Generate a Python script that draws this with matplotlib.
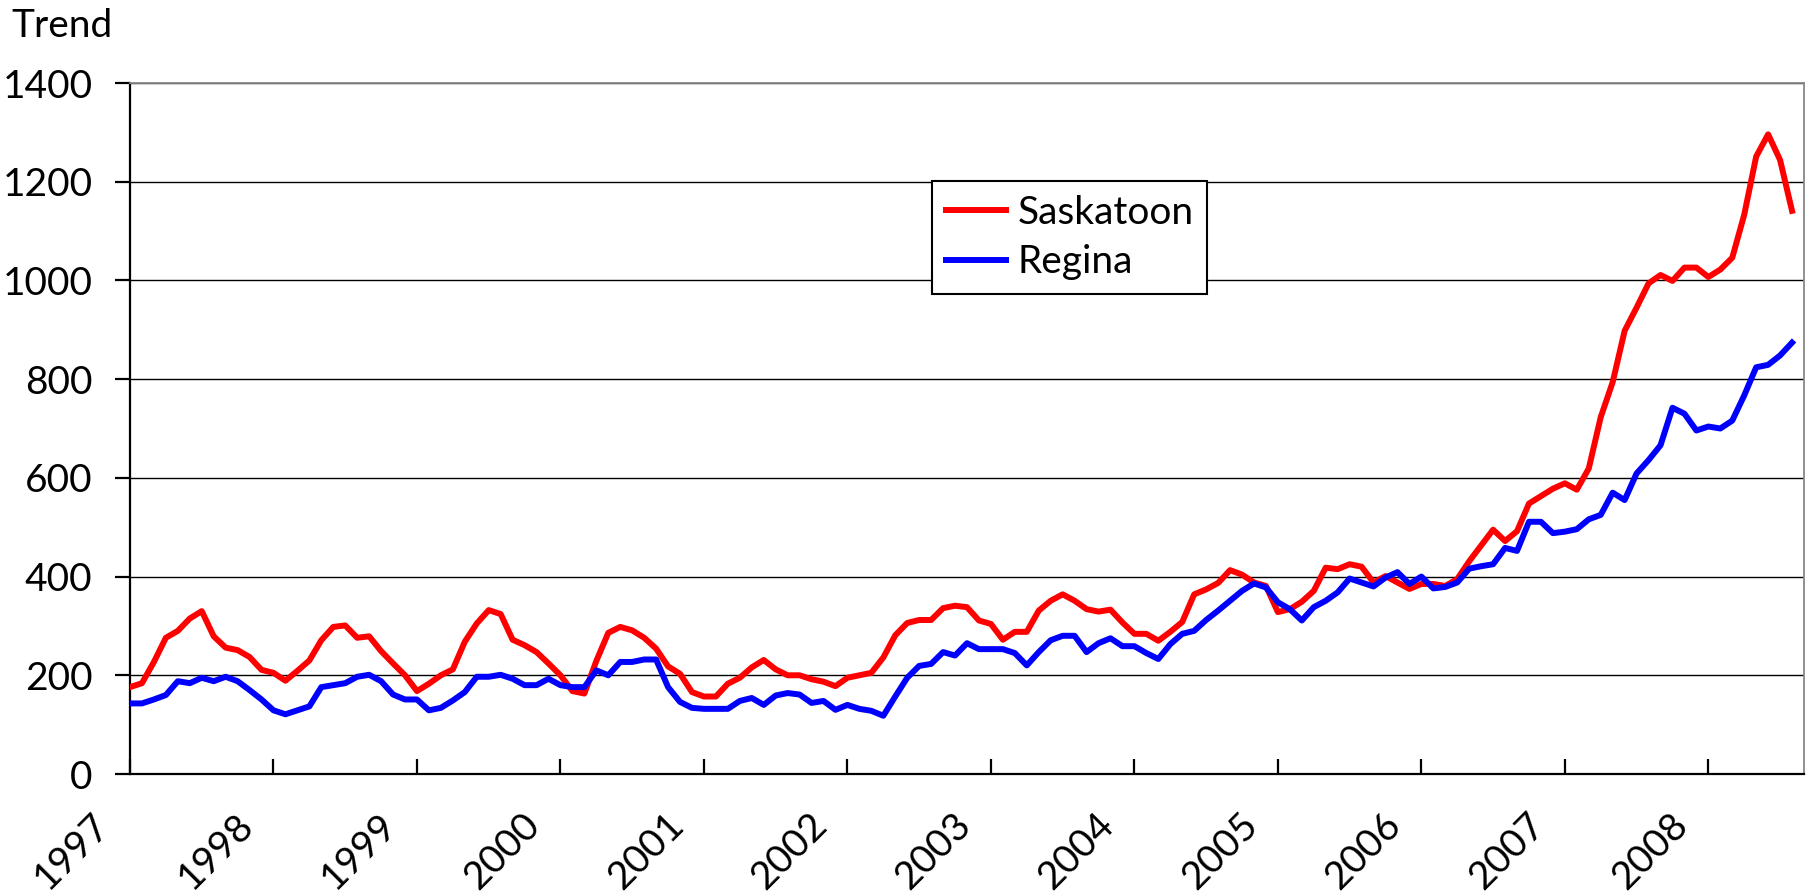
import matplotlib
matplotlib.use("Agg")
import matplotlib.pyplot as plt
import matplotlib.transforms as mtransforms
import numpy as np

plt.rcParams['font.family'] = ['Lato', 'DejaVu Sans']

# monthly trend, Jan 1997 - Aug 2008
saskatoon = [176, 184, 227, 276, 290, 315, 330, 279, 256, 251, 237, 211,
             205, 189, 209, 230, 271, 298, 301, 276, 279, 249, 224, 200,
             168, 183, 200, 212, 268, 305, 332, 324, 272, 261, 247, 224,
             200, 168, 163, 229, 286, 298, 291, 276, 254, 218, 203, 166,
             157, 157, 183, 195, 216, 231, 212, 200, 200, 192, 187, 178,
             195, 200, 205, 236, 281, 306, 312, 312, 336, 341, 338, 311,
             304, 272, 288, 288, 331, 351, 364, 351, 334, 329, 333, 307,
             284, 284, 270, 288, 308, 364, 374, 387, 413, 404, 388, 381,
             328, 334, 349, 371, 418, 415, 425, 420, 388, 401, 388, 375,
             385, 385, 381, 395, 431, 463, 495, 472, 492, 548, 563, 578,
             589, 576, 619, 723, 794, 898, 945, 994, 1011, 999, 1026, 1026,
             1007, 1022, 1046, 1133, 1251, 1296, 1244, 1141]

regina = [143, 143, 151, 160, 188, 184, 195, 188, 197, 188, 170, 151,
          129, 121, 129, 137, 176, 180, 184, 197, 201, 188, 161, 151,
          151, 129, 134, 149, 166, 197, 197, 201, 193, 180, 180, 193,
          180, 176, 176, 210, 200, 227, 227, 232, 232, 176, 146, 134,
          132, 132, 132, 148, 154, 140, 159, 164, 161, 144, 148, 130,
          140, 132, 128, 118, 157, 195, 219, 223, 247, 240, 265, 253,
          253, 253, 245, 220, 247, 271, 280, 280, 247, 265, 275, 259,
          259, 245, 233, 263, 284, 290, 312, 331, 351, 371, 386, 378,
          348, 334, 311, 338, 351, 368, 396, 388, 380, 398, 409, 385,
          400, 376, 379, 388, 416, 421, 425, 458, 452, 511, 511, 488,
          491, 496, 516, 525, 570, 555, 609, 636, 666, 742, 730, 696,
          704, 700, 716, 767, 824, 829, 848, 874]

years = [str(y) for y in range(1997, 2009)]

fig = plt.figure(figsize=(18.14, 8.96), dpi=100)
ax = fig.add_axes([130 / 1814, 122 / 896, 1674 / 1814, 691 / 896])

months = np.arange(len(saskatoon))
ax.plot(months, saskatoon, color='#ff0000', lw=4.3, label='Saskatoon', zorder=3)
ax.plot(months, regina, color='#0000ff', lw=4.3, label='Regina', zorder=3)

ax.set_xlim(0, 140)
ax.set_ylim(0, 1400)
ax.set_yticks(range(0, 1401, 200))
ax.yaxis.grid(True, color='black', lw=1.0)
ax.set_axisbelow(True)

ax.spines['left'].set_linewidth(1.6)
ax.spines['bottom'].set_linewidth(1.6)
ax.spines['top'].set_color('#888888')
ax.spines['right'].set_color('#888888')
ax.spines['top'].set_linewidth(1.3)
ax.spines['right'].set_linewidth(1.3)

ax.tick_params(axis='y', direction='out', length=11, width=1.6, pad=16, labelsize=28)
ax.tick_params(axis='x', direction='in', length=11, width=1.6, pad=56, labelsize=28)

ax.set_xticks(np.arange(0, 133, 12))
ax.set_xticklabels(years, rotation=45, ha='center', va='center', rotation_mode='anchor')
shift = mtransforms.ScaledTranslation(-58 / 100, 0, fig.dpi_scale_trans)
for lab in ax.get_xticklabels():
    lab.set_transform(lab.get_transform() + shift)

fig.text(11 / 1814, 1 - 37 / 896, 'Trend', fontsize=28, va='baseline', ha='left')

leg = ax.legend(loc='upper left', bbox_to_anchor=(932 / 1814, 1 - 181 / 896),
                bbox_transform=fig.transFigure, fontsize=28, frameon=True,
                fancybox=False, edgecolor='black', framealpha=1,
                handlelength=1.55, handletextpad=0.3, labelspacing=0.35,
                borderpad=0.35, borderaxespad=0)
leg.get_frame().set_linewidth(1.5)

fig.savefig('out.png', dpi=100)
